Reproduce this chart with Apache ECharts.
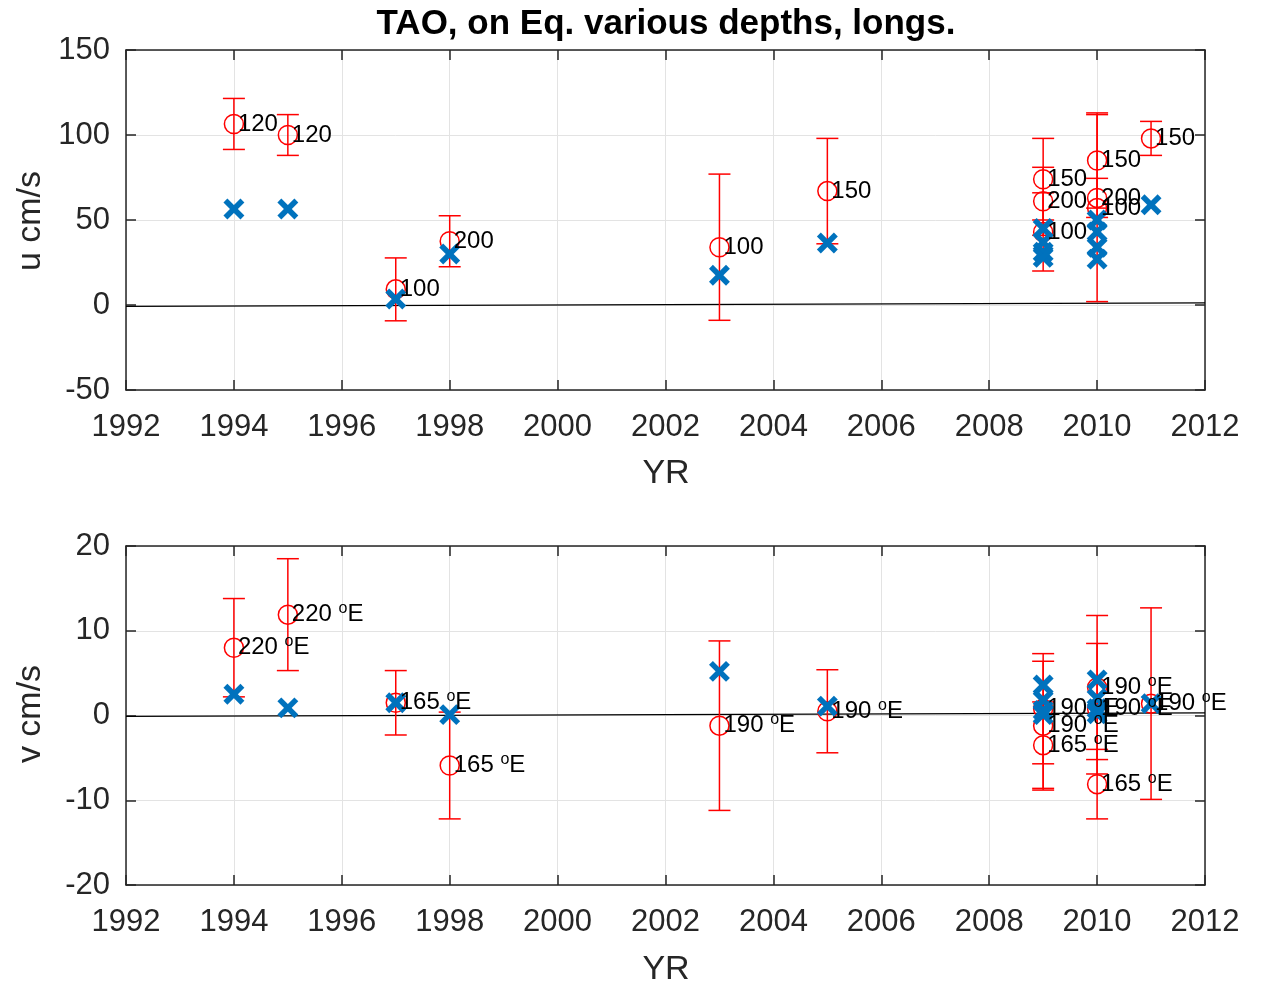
<!DOCTYPE html>
<html>
<head>
<meta charset="utf-8">
<script src="https://cdn.jsdelivr.net/npm/echarts@6/dist/echarts.min.js"></script>
<style>
  html, body { margin: 0; padding: 0; background: #ffffff; }
  #chart { width: 1263px; height: 988px; }
</style>
</head>
<body>
<div id="chart"></div>
<script>
// ---- axis ticks ----
const yearTicks = [1992, 1994, 1996, 1998, 2000, 2002, 2004, 2006, 2008, 2010, 2012];
const uTicks = [-50, 0, 50, 100, 150];
const vTicks = [-20, -10, 0, 10, 20];

// ---- u (zonal velocity, cm/s): mooring means with error bars, labelled by depth ----
const uYear  = [1994, 1995, 1997, 1998, 2003, 2005, 2009, 2009, 2009, 2010, 2010, 2010, 2011];
const uMean  = [106.5, 100, 9.2, 37.5, 34, 67, 74, 61, 43, 85, 63, 57, 98];
const uErr   = [15, 12, 18.5, 15, 43, 31, 24, 20, 23, 28, 11.5, 55, 10];
const uDepth = ['120', '120', '100', '200', '100', '150', '150', '200', '100', '150', '200', '100', '150'];

// ---- u: comparison values (crosses) ----
const uCrossYear = [1994, 1995, 1997, 1998, 2003, 2005, 2009, 2009, 2009, 2009, 2010, 2010, 2010, 2010, 2011];
const uCross     = [56.5, 56.5, 3.5, 30, 17.5, 36.5, 45, 37, 31, 28, 50, 43, 34, 27, 59];

// ---- v (meridional velocity, cm/s): mooring means with error bars, labelled by longitude ----
const vYear = [1994, 1995, 1997, 1998, 2003, 2005, 2009, 2009, 2009, 2010, 2010, 2010, 2011];
const vMean = [8.0, 11.9, 1.5, -5.9, -1.2, 0.5, 0.8, -1.2, -3.5, 3.3, 0.8, -8.1, 1.4];
const vErr  = [5.8, 6.6, 3.8, 6.3, 10, 4.9, 6.5, 7.6, 5.1, 8.5, 7.7, 4.1, 11.3];
const vLon  = ['220', '220', '165', '165', '190', '190', '190', '190', '165', '190', '190', '165', '190'];

// ---- v: comparison values (crosses) ----
const vCrossYear = [1994, 1995, 1997, 1998, 2003, 2005, 2009, 2009, 2009, 2009, 2010, 2010, 2010, 2010, 2011];
const vCross     = [2.5, 0.9, 1.5, 0.1, 5.2, 1.1, 3.6, 1.8, 0.6, 0.1, 4.2, 2.0, 0.8, 0.2, 1.4];

// ---- reference line across each panel ----
const lineYears = [1992, 2012];
const uLine = [-0.8, 1.2];
const vLine = [-0.1, 0.3];

const RED = '#ff0000';
const BLUE = '#0072BD';
const INK = '#262626';
const FONT = 'Liberation Sans, Arial, Helvetica, sans-serif';
const LABEL_SIZE = 24;
const SUP_SIZE = 16;

const chart = echarts.init(document.getElementById('chart'), null, { renderer: 'canvas' });

// text width helper for laying out the superscript degree mark
const measureCtx = document.createElement('canvas').getContext('2d');
function textWidth(str, size) {
  measureCtx.font = size + 'px ' + FONT;
  return measureCtx.measureText(str).width;
}

function errorBar(params, api) {
  const x = api.value(0), m = api.value(1), e = api.value(2);
  const top = api.coord([x, m + e]);
  const bot = api.coord([x, m - e]);
  const hw = 11;
  const style = { stroke: RED, lineWidth: 1.5 };
  return {
    type: 'group',
    children: [
      { type: 'line', shape: { x1: top[0], y1: top[1], x2: bot[0], y2: bot[1] }, style },
      { type: 'line', shape: { x1: top[0] - hw, y1: top[1], x2: top[0] + hw, y2: top[1] }, style },
      { type: 'line', shape: { x1: bot[0] - hw, y1: bot[1], x2: bot[0] + hw, y2: bot[1] }, style }
    ]
  };
}

function crossMark(params, api) {
  const p = api.coord([api.value(0), api.value(1)]);
  const h = 8.5;
  const style = { stroke: BLUE, lineWidth: 5.5 };
  return {
    type: 'group',
    children: [
      { type: 'line', shape: { x1: p[0] - h, y1: p[1] - h, x2: p[0] + h, y2: p[1] + h }, style },
      { type: 'line', shape: { x1: p[0] - h, y1: p[1] + h, x2: p[0] + h, y2: p[1] - h }, style }
    ]
  };
}

function makeLabel(tags, withDegree) {
  return function (params, api) {
    const p = api.coord([api.value(0), api.value(1)]);
    const tag = tags[params.dataIndex];
    const x0 = p[0] + 4;
    const base = { fontFamily: FONT, fill: '#000', align: 'left', verticalAlign: 'middle' };
    if (!withDegree) {
      return { type: 'text', style: Object.assign({ text: tag, x: x0, y: p[1], fontSize: LABEL_SIZE }, base) };
    }
    const lead = tag + ' ';
    const x1 = x0 + textWidth(lead, LABEL_SIZE);
    const x2 = x1 + textWidth('o', SUP_SIZE);
    return {
      type: 'group',
      children: [
        { type: 'text', style: Object.assign({ text: lead, x: x0, y: p[1], fontSize: LABEL_SIZE }, base) },
        { type: 'text', style: Object.assign({ text: 'o', x: x1, y: p[1] - 6, fontSize: SUP_SIZE }, base) },
        { type: 'text', style: Object.assign({ text: 'E', x: x2, y: p[1], fontSize: LABEL_SIZE }, base) }
      ]
    };
  };
}

function xAxes(gridIndex) {
  const base = {
    type: 'value', gridIndex,
    min: yearTicks[0], max: yearTicks[yearTicks.length - 1], interval: 2,
    axisLine: { show: true, onZero: false, lineStyle: { color: INK, width: 1.5 } },
    axisTick: { show: true, inside: true, length: 10, lineStyle: { color: INK, width: 1.5 } }
  };
  return [
    Object.assign({}, base, {
      position: 'bottom',
      axisLabel: { show: true, margin: 22, fontSize: 31, color: INK, fontFamily: FONT,
                   formatter: v => String(v) },
      splitLine: { show: true, lineStyle: { color: '#e3e3e3', width: 1 } }
    }),
    Object.assign({}, base, {
      position: 'top',
      axisLabel: { show: false },
      splitLine: { show: false }
    })
  ];
}

function yAxes(gridIndex, ticks) {
  const base = {
    type: 'value', gridIndex,
    min: ticks[0], max: ticks[ticks.length - 1], interval: ticks[1] - ticks[0],
    axisLine: { show: true, onZero: false, lineStyle: { color: INK, width: 1.5 } },
    axisTick: { show: true, inside: true, length: 10, lineStyle: { color: INK, width: 1.5 } }
  };
  return [
    Object.assign({}, base, {
      position: 'left',
      axisLabel: { show: true, margin: 16, fontSize: 31, color: INK, fontFamily: FONT },
      splitLine: { show: true, lineStyle: { color: '#e3e3e3', width: 1 } }
    }),
    Object.assign({}, base, {
      position: 'right',
      axisLabel: { show: false },
      splitLine: { show: false }
    })
  ];
}

function panelSeries(axisIdx, years, means, errs, tags, crossYears, crosses, lineVals, withDegree) {
  const ax = { xAxisIndex: axisIdx, yAxisIndex: axisIdx };
  return [
    Object.assign({
      type: 'line', silent: true, symbol: 'none', z: 1,
      data: lineYears.map((y, i) => [y, lineVals[i]]),
      lineStyle: { color: '#000', width: 1.2 }
    }, ax),
    Object.assign({
      type: 'custom', silent: true, z: 2,
      renderItem: errorBar,
      encode: { x: 0, y: 1 },
      data: years.map((y, i) => [y, means[i], errs[i]])
    }, ax),
    Object.assign({
      type: 'scatter', silent: true, z: 3,
      symbol: 'circle', symbolSize: 19,
      itemStyle: { color: 'rgba(0,0,0,0)', borderColor: RED, borderWidth: 1.5, opacity: 1 },
      data: years.map((y, i) => [y, means[i]])
    }, ax),
    Object.assign({
      type: 'custom', silent: true, z: 4,
      renderItem: crossMark,
      encode: { x: 0, y: 1 },
      data: crossYears.map((y, i) => [y, crosses[i]])
    }, ax),
    Object.assign({
      type: 'custom', silent: true, z: 5,
      renderItem: makeLabel(tags, withDegree),
      encode: { x: 0, y: 1 },
      data: years.map((y, i) => [y, means[i]])
    }, ax)
  ];
}

const option = {
  animation: false,
  backgroundColor: '#ffffff',
  grid: [
    { left: 126, top: 50, width: 1079, height: 340 },
    { left: 126, top: 546, width: 1079, height: 339 }
  ],
  xAxis: [].concat(xAxes(0), xAxes(1)),
  yAxis: [].concat(yAxes(0, uTicks), yAxes(1, vTicks)),
  series: [].concat(
    panelSeries(0, uYear, uMean, uErr, uDepth, uCrossYear, uCross, uLine, false),
    panelSeries(2, vYear, vMean, vErr, vLon, vCrossYear, vCross, vLine, true)
  ),
  graphic: [
    { type: 'text', x: 666, y: 24, style: {
        text: 'TAO, on Eq. various depths, longs.', fontSize: 35, fontWeight: 'bold',
        fontFamily: FONT, fill: '#000', align: 'center', verticalAlign: 'middle' } },
    { type: 'text', x: 31, y: 221, rotation: Math.PI / 2, style: {
        text: 'u cm/s', fontSize: 34, fontFamily: FONT, fill: INK, align: 'center', verticalAlign: 'middle' } },
    { type: 'text', x: 666, y: 474, style: {
        text: 'YR', fontSize: 34, fontFamily: FONT, fill: INK, align: 'center', verticalAlign: 'middle' } },
    { type: 'text', x: 31, y: 714, rotation: Math.PI / 2, style: {
        text: 'v cm/s', fontSize: 34, fontFamily: FONT, fill: INK, align: 'center', verticalAlign: 'middle' } },
    { type: 'text', x: 666, y: 970, style: {
        text: 'YR', fontSize: 34, fontFamily: FONT, fill: INK, align: 'center', verticalAlign: 'middle' } }
  ]
};

chart.setOption(option);
</script>
</body>
</html>
